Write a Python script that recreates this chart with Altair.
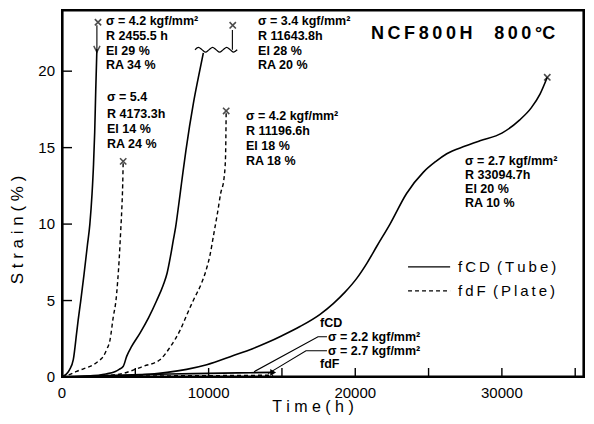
import altair as alt
import pandas as pd

# ---------------- data ----------------
# solid fCD (Tube), sigma = 4.2
c1_t = [0, 250, 500, 770, 1000, 1100, 1280, 1500, 1730, 1900, 2050, 2150, 2230, 2300, 2380]
c1_s = [0, 0.15, 0.45, 1.13, 2.9, 3.7, 5.0, 6.7, 8.6, 10.0, 12.0, 13.9, 16.0, 18.7, 21.45]
# dashed fdF (Plate), sigma = 5.4
c2_t = [0, 500, 1000, 1500, 2140, 2500, 2820, 3050, 3270, 3500, 3680, 3800, 3900, 4000, 4080, 4140, 4173.3]
c2_s = [0, 0.15, 0.37, 0.55, 0.8, 1.05, 1.35, 1.8, 2.4, 3.95, 5.0, 6.3, 7.7, 9.5, 11.0, 12.6, 14.1]
# solid fCD, sigma = 3.4
c3_t = [0, 1500, 3000, 3600, 3900, 4180, 4410, 4750, 5320, 5890, 6460, 6900, 7170, 7400, 7600,
        7750, 7950, 8100, 8250, 8450, 8700, 8960, 9300, 9640]
c3_s = [0, 0.05, 0.2, 0.35, 0.5, 0.7, 1.35, 2.0, 2.87, 3.85, 5.0, 6.0, 6.8, 7.9, 9.0,
        9.8, 11.2, 12.3, 13.4, 14.8, 16.4, 17.9, 19.6, 21.2]
# dashed fdF, sigma = 4.2
c4_t = [0, 2000, 4000, 4860, 5550, 6680, 7370, 8050, 8620, 9000, 9500, 9800, 10100, 10360,
        10600, 10820, 11050, 11150, 11196.6]
c4_s = [0, 0.05, 0.2, 0.45, 0.7, 1.13, 1.95, 3.05, 4.3, 5.1, 6.1, 6.9, 8.0, 9.4,
        10.7, 12.0, 13.0, 14.3, 17.4]
# solid fCD, sigma = 2.7
c5_t = [0, 2000, 4000, 6000, 7170, 8500, 9870, 11690, 13000, 14000, 15000, 16230, 17600, 18500,
        19300, 20100, 20800, 21470, 22370, 23500, 24650, 25500, 26240, 27500, 28500, 30000,
        31200, 32000, 32600, 33094.7]
c5_s = [0, 0.03, 0.08, 0.18, 0.3, 0.5, 0.8, 1.4, 1.85, 2.25, 2.7, 3.3, 4.1, 4.8,
        5.55, 6.45, 7.45, 8.55, 10.0, 12.0, 13.4, 14.1, 14.6, 15.1, 15.45, 15.95,
        16.8, 17.6, 18.5, 19.6]
# running tests near the baseline
c6_t = [0, 3000, 6000, 9000, 12000, 14400]          # fCD sigma 2.2 (solid)
c6_s = [0, 0.1, 0.17, 0.22, 0.27, 0.3]
c7_t = [0, 4000, 8000, 12000, 14400]                # fdF sigma 2.7 (dashed)
c7_s = [0, 0.05, 0.08, 0.1, 0.12]

# rupture markers
rup_t = [2455.5, 4173.3, 11643.8, 11196.6, 33094.7]
rup_s = [23.2, 14.1, 23.0, 17.4, 19.6]

# axis-break details
brk1_t = [2380, 2380]
brk1_s = [21.45, 23.0]
wave_t = [9070, 9310, 9550, 9790, 10030, 10270, 10510, 10750, 10990, 11230, 11470, 11710, 11950]
wave_s = [21.4, 21.55, 21.4, 21.25, 21.4, 21.55, 21.4, 21.25, 21.4, 21.55, 21.4, 21.25, 21.4]
brk3_t = [11620, 11620]
brk3_s = [21.4, 22.7]
vmark_t = [2380]
vmark_s = [21.45]

# arrow of running test
arrow_t = [14400]
arrow_s = [0.3]

# leader lines of the bottom labels
lead1_t = [18070, 17460, 13100]
lead1_s = [2.63, 2.63, 0.35]
lead2_t = [18070, 16640, 14050]
lead2_s = [1.72, 1.72, 0.22]

# annotations
ann_text = [
    "σ = 4.2 kgf/mm²", "R 2455.5 h", "El 29 %", "RA 34 %",
    "σ = 5.4", "R 4173.3h", "El 14 %", "RA 24 %",
    "σ = 3.4 kgf/mm²", "R 11643.8h", "El 28 %", "RA 20 %",
    "σ = 4.2 kgf/mm²", "R 11196.6h", "El 18 %", "RA 18 %",
    "σ = 2.7 kgf/mm²", "R 33094.7h", "El 20 %", "RA 10 %",
    "fCD", "σ = 2.2 kgf/mm²", "σ = 2.7 kgf/mm²", "fdF",
]
ann_t = [3000] * 4 + [3070] * 4 + [13370] * 4 + [12550] * 4 + [27490] * 4 + [17600, 18140, 18140, 17600]
ann_s = [23.25, 22.3, 21.35, 20.4,
         18.29, 17.21, 16.2, 15.25,
         23.25, 22.3, 21.35, 20.4,
         17.08, 16.07, 15.09, 14.14,
         14.11, 13.2, 12.28, 11.37,
         3.54, 2.63, 1.72, 0.87]

title_text = ["N\u2009C\u2009F\u20098\u20090\u20090\u2009H\u2003\u20098\u20090\u20090\u2009°C"]
title_t = [27350]
title_s = [22.43]

leg_text = ["f\u2009C\u2009D\u2009 (\u2009T\u2009u\u2009b\u2009e\u2009)", "f\u2009d\u2009F\u2009 (\u2009P\u2009l\u2009a\u2009t\u2009e\u2009)"]
leg_x1 = [23600, 23600]
leg_x2 = [26470, 26470]
leg_s = [7.2, 5.63]
leg_tx = [27010, 27010]
leg_dash = ["solid", "dashed"]

xtick_vals = [5000, 10000, 15000, 20000, 25000, 30000, 35000]
ytick_vals = [5, 10, 15, 20]
xlabel_vals = [0, 10000, 20000, 30000]
ylabel_vals = [0, 5, 10, 15, 20]
x_title = ["T i m e ( h )"]
y_title = ["S t r a i n ( % )"]

# frame edges, just inside the domain limits
x_edge = [40, 35560]
y_edge = [0.04, 23.96]

# ---------------- build ----------------
FONT = "Liberation Sans"
W, H = 522, 367
xs = alt.Scale(domain=[0, 35600], nice=False, zero=False)
ys = alt.Scale(domain=[0, 24], nice=False, zero=False)


def X(field="t"):
    return alt.X(f"{field}:Q", scale=xs, axis=None)


def Y(field="s"):
    return alt.Y(f"{field}:Q", scale=ys, axis=None)


def curve_df(name, t, s):
    return pd.DataFrame({"curve": name, "t": t, "s": s})


solid_df = pd.concat([curve_df("c1", c1_t, c1_s), curve_df("c3", c3_t, c3_s),
                      curve_df("c5", c5_t, c5_s), curve_df("c6", c6_t, c6_s)])
dash_df = pd.concat([curve_df("c2", c2_t, c2_s), curve_df("c4", c4_t, c4_s),
                     curve_df("c7", c7_t, c7_s)])

solid = alt.Chart(solid_df).mark_line(color="black", strokeWidth=1.6, interpolate="monotone").encode(
    x=X(), y=Y(), detail="curve:N")
dashed = alt.Chart(dash_df).mark_line(color="black", strokeWidth=1.4, strokeDash=[4, 3],
                                      interpolate="monotone").encode(
    x=X(), y=Y(), detail="curve:N")

thin_df = pd.concat([curve_df("b1", brk1_t, brk1_s), curve_df("b3", brk3_t, brk3_s),
                     curve_df("l1", lead1_t, lead1_s), curve_df("l2", lead2_t, lead2_s)])
thin_df["o"] = range(len(thin_df))
thin = alt.Chart(thin_df).mark_line(color="black", strokeWidth=1.1).encode(
    x=X(), y=Y(), detail="curve:N", order="o:Q")
wave = alt.Chart(curve_df("w", wave_t, wave_s)).mark_line(color="black", strokeWidth=1.2,
                                                            interpolate="monotone").encode(x=X(), y=Y())

rup = alt.Chart(pd.DataFrame({"t": rup_t, "s": rup_s})).mark_point(
    shape="M-1,-1L1,1M-1,1L1,-1", size=40, filled=False, color="black", strokeWidth=1.6).encode(x=X(), y=Y())
vmark = alt.Chart(pd.DataFrame({"t": vmark_t, "s": vmark_s})).mark_point(
    shape="M-1,-1L0,1L1,-1", size=40, filled=False, color="black", strokeWidth=1.4).encode(x=X(), y=Y())
arrow = alt.Chart(pd.DataFrame({"t": arrow_t, "s": arrow_s})).mark_point(
    shape="triangle-right", size=45, filled=True, color="black", opacity=1).encode(x=X(), y=Y())

ann = alt.Chart(pd.DataFrame({"t": ann_t, "s": ann_s, "label": ann_text})).mark_text(
    align="left", baseline="middle", font=FONT, fontSize=12.5, fontWeight="bold", color="black").encode(
    x=X(), y=Y(), text="label:N")

ttl = alt.Chart(pd.DataFrame({"t": title_t, "s": title_s, "label": title_text})).mark_text(
    align="center", baseline="middle", font=FONT, fontSize=18, fontWeight="bold", color="black").encode(
    x=X(), y=Y(), text="label:N")

leg_df = pd.DataFrame({"x1": leg_x1, "x2": leg_x2, "s": leg_s, "tx": leg_tx, "label": leg_text, "d": leg_dash})
leg_solid = alt.Chart(leg_df[leg_df.d == "solid"]).mark_rule(color="black", strokeWidth=1.4).encode(
    x=X("x1"), x2="x2:Q", y=Y())
leg_dashed = alt.Chart(leg_df[leg_df.d == "dashed"]).mark_rule(color="black", strokeWidth=1.3,
                                                               strokeDash=[4, 3]).encode(
    x=X("x1"), x2="x2:Q", y=Y())
leg_txt = alt.Chart(leg_df).mark_text(align="left", baseline="middle", font=FONT, fontSize=15,
                                      color="black").encode(x=X("tx"), y=Y(), text="label:N")

# inward ticks
xt = alt.Chart(pd.DataFrame({"t": xtick_vals})).mark_rule(color="black", strokeWidth=1.4).encode(
    x=X(), y=alt.value(H), y2=alt.value(H - 9))
yt = alt.Chart(pd.DataFrame({"s": ytick_vals})).mark_rule(color="black", strokeWidth=1.4).encode(
    y=Y(), x=alt.value(0), x2=alt.value(10))

# plot frame: filled strips (rects) along the four edges
hframe = alt.Chart(pd.DataFrame({"s": y_edge})).mark_tick(
    color="black", thickness=2, size=W + 2, orient="horizontal", opacity=1).encode(
    y=Y(), x=alt.value(W / 2))
vframe = alt.Chart(pd.DataFrame({"t": x_edge})).mark_tick(
    color="black", thickness=2, size=H + 2, orient="vertical", opacity=1).encode(
    x=X(), y=alt.value(H / 2))

# tick labels and axis titles
xl = alt.Chart(pd.DataFrame({"t": xlabel_vals, "label": [str(v) for v in xlabel_vals]})).mark_text(
    align="center", baseline="middle", font=FONT, fontSize=15, color="black").encode(
    x=X(), y=alt.value(H + 15.5), text="label:N")
yl = alt.Chart(pd.DataFrame({"s": ylabel_vals, "label": [str(v) for v in ylabel_vals]})).mark_text(
    align="right", baseline="middle", font=FONT, fontSize=15, color="black").encode(
    y=Y(), x=alt.value(-7), text="label:N")
xtt = alt.Chart(pd.DataFrame({"label": x_title})).mark_text(
    align="center", baseline="middle", font=FONT, fontSize=16, color="black").encode(
    x=alt.value(251), y=alt.value(H + 30), text="label:N")
ytt = alt.Chart(pd.DataFrame({"label": y_title})).mark_text(
    align="center", baseline="middle", font=FONT, fontSize=17, color="black", angle=270).encode(
    x=alt.value(-44), y=alt.value(220), text="label:N")

chart = alt.layer(hframe, vframe, solid, dashed, thin, wave, rup, vmark, arrow, ann, ttl,
                  leg_solid, leg_dashed, leg_txt, xt, yt, xl, yl, xtt, ytt).properties(
    width=W, height=H,
    background="white",
    autosize=alt.AutoSizeParams(type="none"),
    padding={"left": 54, "top": 2, "right": 2, "bottom": 39},
).configure_view(stroke="black", strokeWidth=2)

chart.save("out.html", embed_options={"renderer": "svg", "actions": False})
